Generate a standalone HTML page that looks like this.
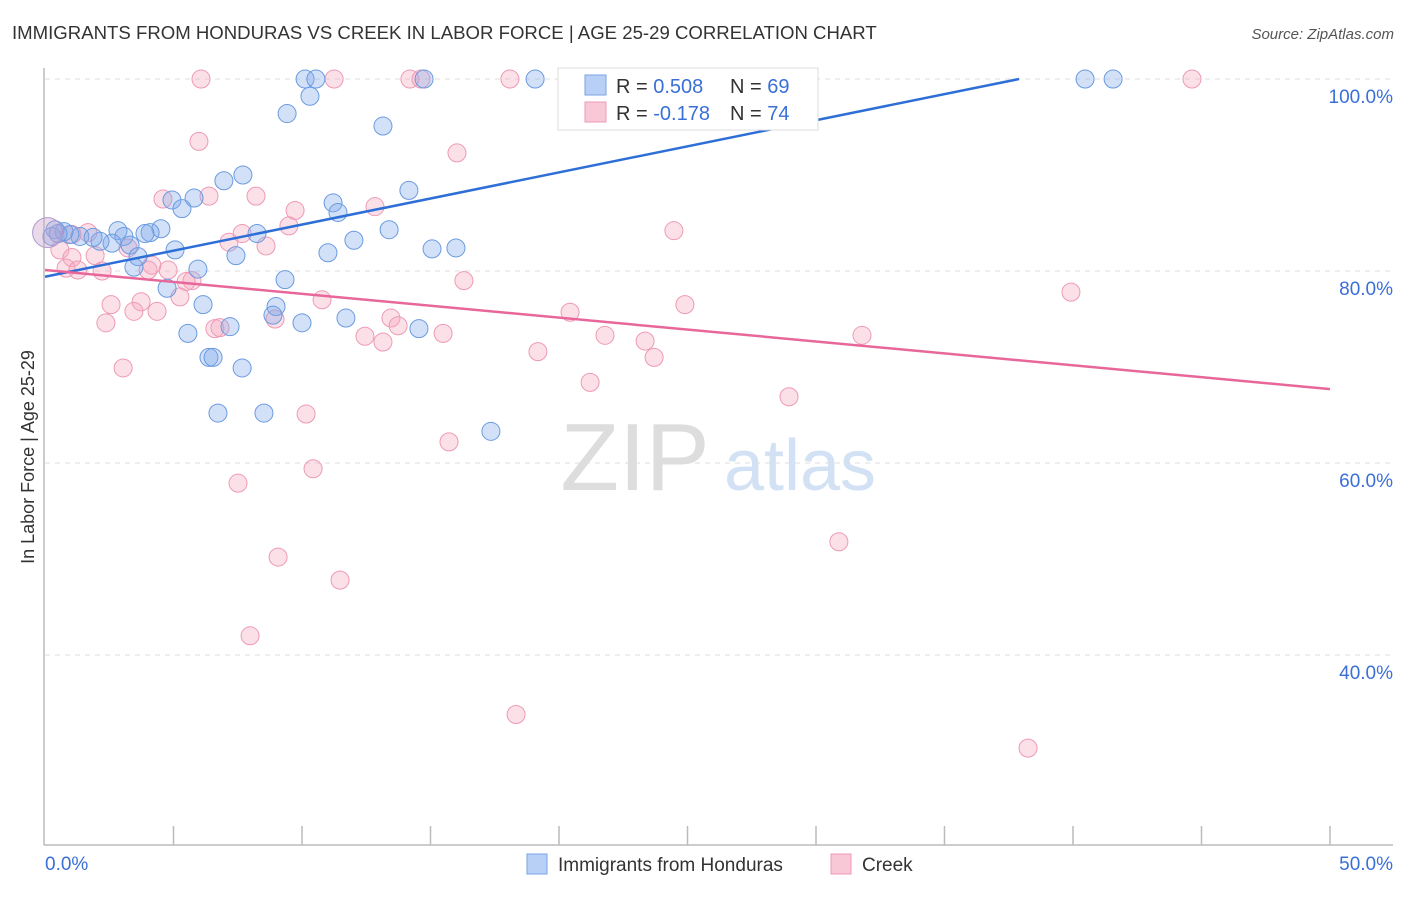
<!DOCTYPE html>
<html><head><meta charset="utf-8"><style>
body{margin:0;background:#fff;font-family:"Liberation Sans",sans-serif;}
svg text{font-family:"Liberation Sans",sans-serif;}
</style></head><body>
<svg id="chart" width="1406" height="892" xmlns="http://www.w3.org/2000/svg">
<text x="12" y="39" font-size="18.6" fill="#333">IMMIGRANTS FROM HONDURAS VS CREEK IN LABOR FORCE | AGE 25-29 CORRELATION CHART</text>
<text x="1394" y="39" font-size="15" fill="#555" font-style="italic" text-anchor="end">Source: ZipAtlas.com</text>
<g>
<text x="635" y="490" font-size="96" fill="#ddd" font-family="Liberation Serif" text-anchor="middle">ZIP</text>
<text x="800" y="490" font-size="72" fill="#d3e1f5" text-anchor="middle">atlas</text>
</g>
<g id="grid"></g>
<g id="axes"></g>
<g id="points"></g>
<g id="lines"></g>
<text transform="translate(34,457) rotate(-90)" font-size="18" fill="#333" text-anchor="middle">In Labor Force | Age 25-29</text>
<g>
<rect x="558" y="68" width="260" height="62" fill="#fff" stroke="#ddd"/>
<rect x="585" y="75" width="21" height="20" fill="#b8d0f5" stroke="#7aa3e6"/>
<rect x="585" y="102" width="21" height="20" fill="#f9c8d6" stroke="#ee9ab5"/>
<text x="616" y="93" font-size="20" fill="#333">R = <tspan fill="#3a6fd8">0.508</tspan></text>
<text x="730" y="93" font-size="20" fill="#333">N = <tspan fill="#3a6fd8">69</tspan></text>
<text x="616" y="120" font-size="20" fill="#333">R = <tspan fill="#3a6fd8">-0.178</tspan></text>
<text x="730" y="120" font-size="20" fill="#333">N = <tspan fill="#3a6fd8">74</tspan></text>
</g>
<g>
<rect x="527" y="854" width="20" height="20" fill="#b8d0f5" stroke="#7aa3e6"/>
<text x="558" y="871" font-size="19" fill="#333">Immigrants from Honduras</text>
<rect x="831" y="854" width="20" height="20" fill="#f9c8d6" stroke="#ee9ab5"/>
<text x="862" y="871" font-size="19" fill="#333">Creek</text>
</g>
</svg>
<script>
const blueX=[10.12,10.54,14.75,19.07,23.85,28.21,40.47,41.56,10.31,9.42,13.15,7.70,6.96,14.16,5.80,4.94,5.33,11.21,11.40,8.25,13.39,12.02,15.06,15.99,11.01,7.43,5.06,4.51,4.09,3.89,2.84,3.07,2.61,2.14,1.36,1.87,0.97,0.74,0.39,0.27,0.51,3.31,3.62,3.46,5.95,9.34,4.75,6.15,8.99,8.87,10.00,11.71,7.20,14.55,5.56,6.38,6.54,7.67,6.73,8.52,17.35];
const blueY=[100,100,100,100,100,100,100,100,98.2,96.4,95.1,90.0,89.4,88.4,87.6,87.4,86.5,87.1,86.1,83.9,84.3,83.2,82.3,82.4,81.9,81.6,82.2,84.4,84.0,83.9,84.2,83.6,82.9,83.1,83.6,83.5,83.8,84.1,84.3,83.6,83.9,82.7,81.5,80.4,80.2,79.1,78.2,76.5,76.3,75.4,74.6,75.1,74.2,74.0,73.5,71.0,71.0,69.9,65.2,65.2,63.3];
const pinkX=[6.07,11.25,14.20,14.63,18.09,28.37,44.63,5.99,16.03,6.38,8.21,4.59,9.73,12.84,9.49,24.47,7.67,7.16,8.60,1.67,1.05,0.58,1.05,1.95,3.23,4.16,0.82,1.28,2.22,4.01,4.79,5.72,5.49,16.30,39.92,5.25,10.78,3.74,2.57,24.90,3.46,4.36,20.43,2.37,13.46,8.95,13.74,6.61,6.81,12.45,15.49,21.79,13.15,31.79,23.35,19.18,23.70,3.04,21.21,28.95,10.16,15.72,10.43,7.51,30.89,9.07,11.48,7.98,18.33,38.25];
const pinkY=[100,100,100,100,100,100,100,93.5,92.3,87.8,87.8,87.5,86.3,86.7,84.7,84.2,83.9,83.0,82.6,84.0,83.8,82.2,81.4,81.6,82.4,80.6,80.3,80.1,80.0,80.1,80.1,79.0,78.9,79.0,77.8,77.3,77.0,76.8,76.5,76.5,75.8,75.8,75.7,74.6,75.1,75.0,74.3,74.0,74.1,73.2,73.5,73.3,72.6,73.3,72.7,71.6,71.0,69.9,68.4,66.9,65.1,62.2,59.4,57.9,51.8,50.2,47.8,42.0,33.8,30.3];
const blueTrend=[[0,79.4],[37.9,100]];
const pinkTrend=[[0,80.1],[50,67.7]];
const yTicks=[100,80,60,40];
const xTickVals=[0,5,10,15,20,25,30,35,40,45,50];
const NS="http://www.w3.org/2000/svg";
function sx(v){return 45+v*25.7;}
function sy(v){return 79+(100-v)*9.6;}
function mk(tag,attrs,parent){const e=document.createElementNS(NS,tag);for(const k in attrs)e.setAttribute(k,attrs[k]);parent.appendChild(e);return e;}
const grid=document.getElementById('grid'),axes=document.getElementById('axes'),pts=document.getElementById('points'),lines=document.getElementById('lines');
yTicks.forEach(t=>{
 const l=mk('line',{x1:45,x2:1393,y1:sy(t),y2:sy(t),stroke:'#ddd','stroke-dasharray':'5,5'},grid);
 
 
 const tx=mk('text',{x:1393,y:sy(t)+24,'font-size':19,fill:'#3a6fd8','text-anchor':'end'},axes);
 tx.textContent=t.toFixed(1)+'%';
 
 
});
const yax=mk('line',{x1:44,x2:44,y1:68,y2:845,stroke:'#bbb','stroke-width':1.5},axes);


const xax=mk('line',{x1:44,x2:1393,y1:845,y2:845,stroke:'#bbb','stroke-width':1.5},axes);


xTickVals.forEach(t=>{
 if(t===0)return;
 const l=mk('line',{x1:sx(t),x2:sx(t),y1:826,y2:845,stroke:'#bbb','stroke-width':1.5},axes);
 
 
});
[[0,'start',45],[50,'end',1393]].forEach(([v,a,x])=>{
 const tx=mk('text',{x:x,y:870,'font-size':19,fill:'#3a6fd8','text-anchor':a},axes);
 tx.textContent=v.toFixed(1)+'%';
 
 
});
function drawPts(X,Y,fill,stroke,name){
 X.forEach((x,i)=>{
  const c=mk('circle',{cx:sx(x),cy:sy(Y[i]),r:9,fill:fill,stroke:stroke,'stroke-width':1},pts);
  
  
 });
}
drawPts(pinkX,pinkY,'rgba(245,165,190,0.35)','#ee9ab5','point-creek');
drawPts(blueX,blueY,'rgba(130,170,235,0.35)','#6a9be0','point-honduras');
const big1=mk('circle',{cx:sx(0.1),cy:sy(84.0),r:15,fill:'rgba(200,160,200,0.4)',stroke:'#b09ad0'},pts);


function drawLine(p,color,name){
 const l=mk('line',{x1:sx(p[0][0]),y1:sy(p[0][1]),x2:sx(p[1][0]),y2:sy(p[1][1]),stroke:color,'stroke-width':2.5},lines);
 
 
}
drawLine(blueTrend,'#2d6fd6','trend-line-honduras');
drawLine(pinkTrend,'#e8679a','trend-line-creek');
</script>
</body></html>
